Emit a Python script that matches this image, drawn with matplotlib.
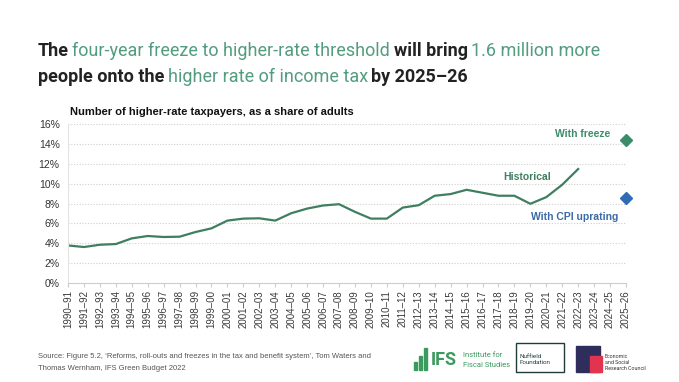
import matplotlib
matplotlib.use('Agg')
from matplotlib import pyplot as plt
from matplotlib.patches import Rectangle
import numpy as np

# data
years = ['1990–91', '1991–92', '1992–93', '1993–94', '1994–95', '1995–96', '1996–97',
         '1997–98', '1998–99', '1999–00', '2000–01', '2001–02', '2002–03', '2003–04',
         '2004–05', '2005–06', '2006–07', '2007–08', '2008–09', '2009–10', '2010–11',
         '2011–12', '2012–13', '2013–14', '2014–15', '2015–16', '2016–17', '2017–18',
         '2018–19', '2019–20', '2020–21', '2021–22', '2022–23', '2023–24', '2024–25',
         '2025–26']
historical = [3.78, 3.62, 3.85, 3.92, 4.49, 4.73, 4.63, 4.66, 5.13, 5.5, 6.28, 6.48,
              6.51, 6.28, 7.02, 7.49, 7.8, 7.93, 7.16, 6.48, 6.48, 7.59, 7.83, 8.78,
              8.95, 9.38, 9.08, 8.78, 8.78, 7.97, 8.64, 9.89, 11.47]
with_freeze = 14.38
with_cpi = 8.54
yticks = [0, 2, 4, 6, 8, 10, 12, 14, 16]

GREEN = '#529c7f'
LINE = '#3f7f60'
DIAM_G = '#3b8c69'
BLUE = '#2f6cb3'
DARK = '#222222'

W, H = 679, 382
fig = plt.figure(figsize=(W / 100, H / 100), dpi=100)
ax = fig.add_axes([68 / W, 1 - 283 / H, 558 / W, 159 / H])

x = np.arange(len(historical))
ax.plot(x, historical, color=LINE, lw=1.6, solid_joinstyle='round')
ax.plot(len(years) - 1, with_freeze, marker='D', color=DIAM_G, ms=6.5, ls='none', clip_on=False)
ax.plot(len(years) - 1, with_cpi, marker='D', color=BLUE, ms=6.5, ls='none', clip_on=False)

ax.text(34.0, 14.95, 'With freeze', ha='right', va='center', color=DIAM_G,
        fontsize=7.5, fontweight='bold', family='Liberation Sans')
ax.text(28.8, 10.7, 'Historical', ha='center', va='center', color=LINE,
        fontsize=7.5, fontweight='bold', family='Liberation Sans')
ax.text(34.5, 6.6, 'With CPI uprating', ha='right', va='center', color='#3b6aa5',
        fontsize=7.5, fontweight='bold', family='Liberation Sans')

ax.set_xlim(0, len(years) - 1)
ax.set_ylim(0, 16)
ax.set_xticks(np.arange(len(years)))
ax.set_xticklabels(years, rotation=90, fontsize=7, color='#3a3a3a', family='Liberation Sans')
ax.set_yticks(yticks)
ax.set_yticklabels([f'{v}%' for v in yticks], fontsize=7.5, color='#333333', family='Liberation Sans')
for v in yticks[1:]:
    ax.axhline(v, color='#cfcfcf', lw=0.8, ls=(0, (1, 1.5)), zorder=0)
for s in ['top', 'right']:
    ax.spines[s].set_visible(False)
ax.spines['left'].set_color('#e3e3e3')
ax.spines['bottom'].set_color('#cccccc')
ax.tick_params(axis='x', length=3, color='#cccccc', pad=2)
ax.tick_params(axis='y', length=0, pad=6)

fig.text(70 / W, 1 - 112 / H, 'Number of higher-rate taxpayers, as a share of adults',
         fontsize=8, fontweight='bold', color='#111111', family='Liberation Sans', va='center')

# title with coloured parts
renderer = fig.canvas.get_renderer()
TFAM = 'Roboto'


def measure(s, weight, size):
    t = fig.text(0, 0, s, fontweight=weight, family=TFAM, fontsize=size)
    w = t.get_window_extent(renderer).width
    t.remove()
    return w


def space(weight, size):
    return 0.75 * (measure('a a', weight, size) - measure('aa', weight, size))


line1 = [('The', DARK, 'bold'), ('four-year freeze to higher-rate threshold', GREEN, 'normal'),
         ('will bring', DARK, 'bold'), ('1.6 million more', GREEN, 'normal')]
line2 = [('people onto the', DARK, 'bold'), ('higher rate of income tax', GREEN, 'normal'),
         ('by 2025–26', DARK, 'bold')]

# fit first line to the reference width
w1 = sum(measure(s, wgt, 16) + space(wgt, 16) for s, c, wgt in line1) - space('normal', 16)
tsize = 16 * 564 / w1


def rich_line(x0, ybase, parts):
    xp = x0
    for s, c, wgt in parts:
        t = fig.text(xp / W, 1 - ybase / H, s, color=c, fontweight=wgt, va='baseline',
                     family=TFAM, fontsize=tsize)
        xp += t.get_window_extent(renderer).width + space(wgt, tsize)


rich_line(38, 56, line1)
rich_line(38, 82, line2)

# footer
fig.text(38 / W, 1 - 357 / H,
         "Source: Figure 5.2, ‘Reforms, roll-outs and freezes in the tax and benefit system’, Tom Waters and",
         fontsize=5.5, color='#555555', family='Liberation Sans', va='center')
fig.text(38 / W, 1 - 368 / H, 'Thomas Wernham, IFS Green Budget 2022',
         fontsize=5.5, color='#555555', family='Liberation Sans', va='center')

# logos (approximate)
for i, h in enumerate([8, 14, 22]):
    fig.patches.append(Rectangle(((414 + i * 5) / W, 1 - 370 / H), 3 / W, h / H,
                                 transform=fig.transFigure, color='#3b9a5e'))
fig.text(431 / W, 1 - 360 / H, 'IFS', fontsize=13, fontweight='bold', color='#3b9a5e',
         family='Roboto', va='center')
fig.text(463 / W, 1 - 355 / H, 'Institute for', fontsize=5.5, color='#3b9a5e', va='center',
         family='Roboto')
fig.text(463 / W, 1 - 365 / H, 'Fiscal Studies', fontsize=5.5, color='#3b9a5e', va='center',
         family='Roboto')
fig.patches.append(Rectangle((516 / W, 1 - 372 / H), 48 / W, 29 / H, transform=fig.transFigure,
                             fill=False, ec='#1f3b3a', lw=1))
fig.text(520 / W, 1 - 356 / H, 'Nuffield', fontsize=4.5, color='#1f3b3a', va='center', family='Roboto')
fig.text(520 / W, 1 - 363 / H, 'Foundation', fontsize=4.5, color='#1f3b3a', va='center', family='Roboto')
fig.patches.append(Rectangle((576 / W, 1 - 372 / H), 24 / W, 26 / H, transform=fig.transFigure,
                             color='#2e2d5b'))
fig.patches.append(Rectangle((590 / W, 1 - 372 / H), 12 / W, 16 / H, transform=fig.transFigure,
                             color='#e2344e'))
fig.text(605 / W, 1 - 356 / H, 'Economic', fontsize=3.8, color='#333333', va='center', family='Roboto')
fig.text(605 / W, 1 - 362 / H, 'and Social', fontsize=3.8, color='#333333', va='center', family='Roboto')
fig.text(605 / W, 1 - 368 / H, 'Research Council', fontsize=3.8, color='#333333', va='center', family='Roboto')

fig.savefig('out.png', dpi=100)
